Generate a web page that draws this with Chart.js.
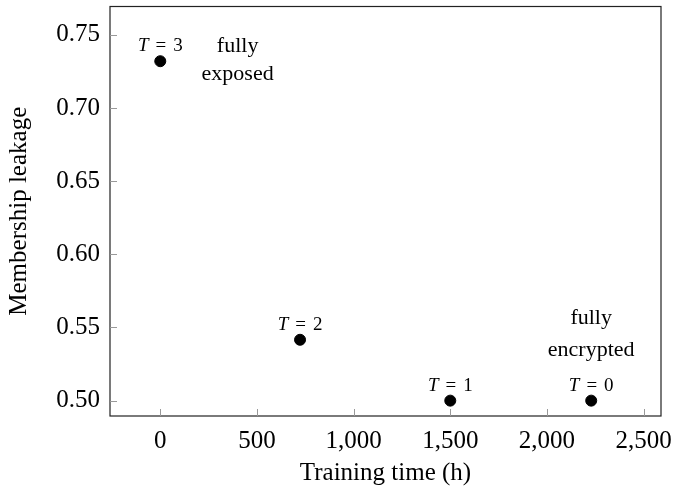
<!DOCTYPE html>
<html>
<head>
<meta charset="utf-8">
<script src="https://cdn.jsdelivr.net/npm/chart.js@4.4.1/dist/chart.umd.min.js"></script>
<style>
  html, body { margin: 0; padding: 0; background: #fff; }
  #wrap { width: 689px; height: 489px; }
</style>
</head>
<body>
<div id="wrap"><canvas id="c" width="689" height="489"></canvas></div>
<script>
// ---- data ----
const trainingTime = [0, 723, 1500, 2229];
const leakage = [0.732, 0.5416, 0.500, 0.500];
const pointLabels = ['3', '2', '1', '0'];
const xTickValues = [0, 500, 1000, 1500, 2000, 2500];
const yTickValues = [0.50, 0.55, 0.60, 0.65, 0.70, 0.75];
const annotations = [
  { x: 400, y: 0.732, lines: ['fully', 'exposed'] },
  { x: 2229, y: 0.500, lines: ['fully', 'encrypted'] }
];
const xTitle = 'Training time (h)';
const yTitle = 'Membership leakage';

const SERIF = '"Liberation Serif", "DejaVu Serif", serif';

const framePlugin = {
  id: 'frame',
  afterDatasetsDraw(chart) {
    const ctx = chart.ctx;
    const a = chart.chartArea;
    const xs = chart.scales.x, ys = chart.scales.y;
    ctx.save();
    // frame
    ctx.strokeStyle = '#222';
    ctx.lineWidth = 1.2;
    ctx.strokeRect(a.left, a.top, a.right - a.left, a.bottom - a.top);
    // inward ticks
    ctx.strokeStyle = '#999';
    ctx.lineWidth = 1;
    xTickValues.forEach(v => {
      const px = Math.round(xs.getPixelForValue(v)) + 0.5;
      ctx.beginPath(); ctx.moveTo(px, a.bottom); ctx.lineTo(px, a.bottom - 7); ctx.stroke();
    });
    yTickValues.forEach(v => {
      const py = Math.round(ys.getPixelForValue(v)) + 0.5;
      ctx.beginPath(); ctx.moveTo(a.left, py); ctx.lineTo(a.left + 7, py); ctx.stroke();
    });
    // point labels "T = n"
    ctx.fillStyle = '#000';
    ctx.textBaseline = 'middle';
    trainingTime.forEach((t, i) => {
      const px = xs.getPixelForValue(t);
      const py = ys.getPixelForValue(leakage[i]) - 15;
      const italic = 'italic 19px ' + SERIF;
      const normal = '19px ' + SERIF;
      ctx.font = italic; const wT = ctx.measureText('T').width;
      ctx.font = normal;
      const eq = '=', num = pointLabels[i];
      const wEq = ctx.measureText(eq).width, wN = ctx.measureText(num).width;
      const gap = 7;
      const total = wT + gap + wEq + gap + wN;
      let x0 = px - total / 2;
      ctx.textAlign = 'left';
      ctx.font = italic; ctx.fillText('T', x0, py);
      ctx.font = normal;
      ctx.fillText(eq, x0 + wT + gap, py);
      ctx.fillText(num, x0 + wT + gap + wEq + gap, py);
    });
    // annotations
    ctx.font = '22px ' + SERIF;
    ctx.textAlign = 'center';
    annotations.forEach((an, k) => {
      const px = xs.getPixelForValue(an.x);
      const py = ys.getPixelForValue(an.y);
      const offs = k === 0 ? [-15, 13] : [-82, -50];
      an.lines.forEach((ln, j) => ctx.fillText(ln, px, py + offs[j]));
    });
    ctx.restore();
  }
};

new Chart(document.getElementById('c'), {
  type: 'scatter',
  data: {
    datasets: [{
      data: trainingTime.map((t, i) => ({ x: t, y: leakage[i] })),
      backgroundColor: '#000',
      borderColor: '#000',
      pointRadius: 5.5,
      pointHoverRadius: 5.5
    }]
  },
  options: {
    responsive: false,
    animation: false,
    layout: { padding: { top: 6, right: 28, left: 0, bottom: 0 } },
    plugins: { legend: { display: false }, tooltip: { enabled: false } },
    scales: {
      x: {
        type: 'linear',
        min: -260, max: 2590,
        afterBuildTicks: s => { s.ticks = xTickValues.map(v => ({ value: v })); },
        afterFit: s => { s.height = 73; s.paddingLeft = 0; s.paddingRight = 0; },
        grid: { display: false, drawTicks: false },
        border: { display: false },
        ticks: {
          padding: 10,
          color: '#000',
          font: { family: SERIF, size: 25 },
          callback: v => v.toLocaleString('en-US')
        },
        title: {
          display: true, text: xTitle, color: '#000',
          font: { family: SERIF, size: 25 }, padding: { top: 4, bottom: 1 }
        }
      },
      y: {
        type: 'linear',
        min: 0.4895, max: 0.7694,
        afterBuildTicks: s => { s.ticks = yTickValues.map(v => ({ value: v })); },
        afterFit: s => { s.width = 110; s.paddingTop = 0; s.paddingBottom = 0; },
        grid: { display: false, drawTicks: false },
        border: { display: false },
        ticks: {
          padding: 10,
          color: '#000',
          font: { family: SERIF, size: 25 },
          callback: v => v.toFixed(2)
        },
        title: {
          display: true, text: yTitle, color: '#000',
          font: { family: SERIF, size: 25 }, padding: { bottom: 2 }
        }
      }
    }
  },
  plugins: [framePlugin]
});
</script>
</body>
</html>
